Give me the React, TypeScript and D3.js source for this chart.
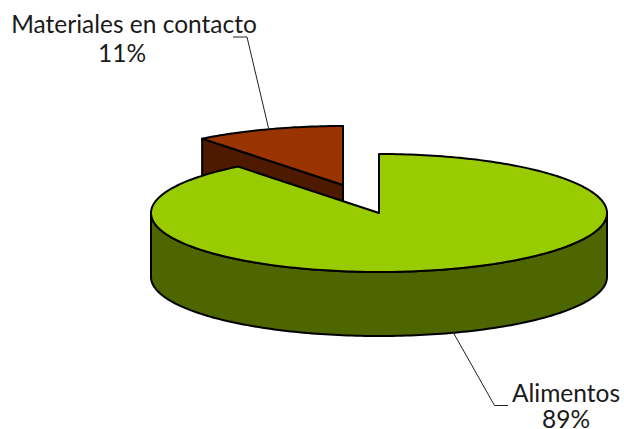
import React from "react";
import * as d3 from "d3";

const categories = ["Alimentos", "Materiales en contacto"];
const values = [89.4, 10.6];
const percentLabels = ["89%", "11%"];
const topColors = ["#99CC00", "#993300"];
const sideColors = ["#4D6600", "#4D1A00"];

const W = 624, H = 429;
const CX = 379, CY = 213, RX = 228, RY = 59, DEPTH = 64;
const explode: [number, number][] = [[0, 0], [-36, -28]];

const xS = d3.scaleLinear().domain([-1, 1]).range([-RX, RX]);
const yS = d3.scaleLinear().domain([-1, 1]).range([-RY, RY]);

const pt = (a: number, ox: number, oy: number): [number, number] => [
  ox + xS(Math.sin(a)),
  oy + yS(-Math.cos(a)),
];
const sample = (a0: number, a1: number) => {
  const n = Math.max(2, Math.ceil(Math.abs(a1 - a0) / 0.02));
  return d3.range(n + 1).map((i) => a0 + ((a1 - a0) * i) / n);
};
const line = d3.line();

const pieGen = d3.pie<number>().sort(null).startAngle(0).endAngle(2 * Math.PI);

export default function App() {
  const arcs = pieGen(values);
  const slices = arcs.map((s, i) => {
    const [dx, dy] = explode[i];
    const ox = CX + dx, oy = CY + dy;
    const rim = sample(s.startAngle, s.endAngle).map((a) => pt(a, ox, oy));
    const top = line([[ox, oy], ...rim, [ox, oy]]) + "Z";
    // outer wall: only the front half of the rim is ever visible
    const lo = Math.max(s.startAngle, Math.PI / 2);
    const hi = Math.min(s.endAngle, (3 * Math.PI) / 2);
    const wallRim = lo < hi ? sample(lo, hi).map((a) => pt(a, ox, oy)) : [];
    const wall = wallRim.length
      ? line([...wallRim, ...wallRim.slice().reverse().map(([x, y]) => [x, y + DEPTH] as [number, number])]) + "Z"
      : null;
    // cut face from centre to the rim at the slice's end angle
    const e = pt(s.endAngle, ox, oy);
    const st = pt(s.startAngle, ox, oy);
    const faces = [
      line([[ox, oy], e, [e[0], e[1] + DEPTH], [ox, oy + DEPTH]]) + "Z",
      line([[ox, oy], st, [st[0], st[1] + DEPTH], [ox, oy + DEPTH]]) + "Z",
    ];
    return { top, wall, faces, i };
  });

  const txt = {
    fontFamily: "Lato, 'Open Sans', sans-serif",
    fontSize: 24.5,
    fill: "#1a1a1a",
    textAnchor: "middle" as const,
  };

  return (
    <svg
      width={W}
      height={H}
      viewBox={`0 0 ${W} ${H}`}
      style={{ position: "absolute", left: 0, top: 0, display: "block", background: "#fff" }}
    >
      {/* exploded slice is behind, main slice in front */}
      {[slices[1], slices[0]].map((s) => (
        <g key={s.i} stroke="#000" strokeWidth={2} strokeLinejoin="round">
          {s.i === 1 && s.faces.map((d, k) => <path key={k} d={d} fill={sideColors[s.i]} />)}
          {s.wall && <path d={s.wall} fill={sideColors[s.i]} />}
          <path d={s.top} fill={topColors[s.i]} />
        </g>
      ))}

      <path d="M233,37H247L268.5,128" fill="none" stroke="#222" strokeWidth={1} />
      <path d="M453,332L494.5,405.5H508" fill="none" stroke="#222" strokeWidth={1} />

      <text x={134} y={33} {...txt}>{categories[1]}</text>
      <text x={122} y={62} {...txt}>{percentLabels[1]}</text>
      <text x={566} y={401.5} {...txt}>{categories[0]}</text>
      <text x={566} y={428} {...txt}>{percentLabels[0]}</text>
    </svg>
  );
}
